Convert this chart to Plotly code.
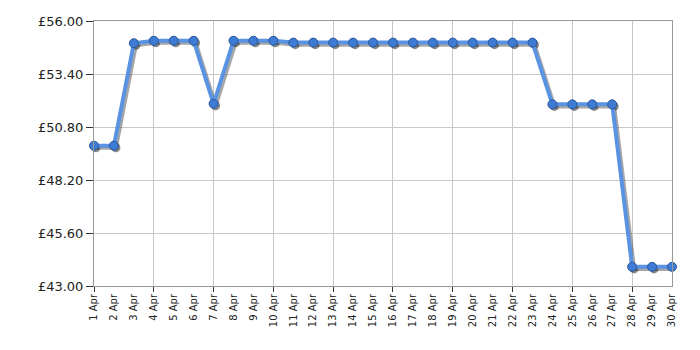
import plotly.graph_objects as go

days = list(range(1, 31))
day_labels = [f"{d} Apr" for d in days]
prices = [49.88, 49.88, 54.91, 55.03, 55.03, 55.03, 51.94, 55.03, 55.03, 55.03,
          54.94, 54.94, 54.94, 54.94, 54.94, 54.94, 54.94, 54.94, 54.94, 54.94,
          54.94, 54.94, 54.94, 51.91, 51.91, 51.91, 51.91, 43.94, 43.94, 43.94]
y_ticks = [43.00, 45.60, 48.20, 50.80, 53.40, 56.00]
y_ticktext = [f"£{v:.2f}" for v in y_ticks]
grid_days = list(range(1, 29, 3))

fig = go.Figure()

# invisible anchor trace for the base (grid) axes
fig.add_trace(go.Scatter(
    x=days, y=prices, mode="lines", line=dict(color="rgba(0,0,0,0)", width=1),
    hoverinfo="skip", showlegend=False))

# shadow
fig.add_trace(go.Scatter(
    x=days, y=prices, xaxis="x2", yaxis="y2", mode="lines+markers",
    line=dict(color="rgba(60,60,60,0.45)", width=4),
    marker=dict(size=9, color="rgba(40,40,40,0.55)", line=dict(width=0)),
    cliponaxis=False, hoverinfo="skip", showlegend=False))

# main
fig.add_trace(go.Scatter(
    x=days, y=prices, xaxis="x3", yaxis="y3", mode="lines+markers",
    line=dict(color="#5b93e3", width=4),
    marker=dict(size=9, color="#3d7bd4", line=dict(color="#2a5597", width=1)),
    cliponaxis=False, showlegend=False))

fig.update_layout(
    width=700, height=350,
    margin=dict(l=94, r=28, t=21, b=64),
    paper_bgcolor="white", plot_bgcolor="white",
    font=dict(family="DejaVu Sans", color="#222"),
    xaxis=dict(range=[1, 30], tickvals=grid_days, showticklabels=False,
               ticks="outside", ticklen=5, tickcolor="#333",
               showgrid=True, gridcolor="#c8c8c8", gridwidth=1,
               showline=True, mirror=True, linecolor="#999", linewidth=1,
               zeroline=False),
    yaxis=dict(range=[43, 56], tickvals=y_ticks, ticktext=y_ticktext,
               ticks="outside", ticklen=7, tickcolor="#333",
               tickfont=dict(size=13, color="#222"),
               showgrid=True, gridcolor="#c8c8c8", gridwidth=1,
               showline=True, mirror=True, linecolor="#999", linewidth=1,
               zeroline=False),
    xaxis2=dict(overlaying="x", range=[0.9, 29.9], visible=False),
    yaxis2=dict(overlaying="y", range=[43.1, 56.1], visible=False),
    xaxis3=dict(overlaying="x", range=[1, 30], tickvals=days, ticktext=day_labels,
                tickangle=-90, tickfont=dict(size=10, color="#222"),
                showgrid=False, zeroline=False, showline=False, ticks="",
                ticklabelstandoff=5),
    yaxis3=dict(overlaying="y", range=[43, 56], visible=False),
)

fig.write_html("out.html")
